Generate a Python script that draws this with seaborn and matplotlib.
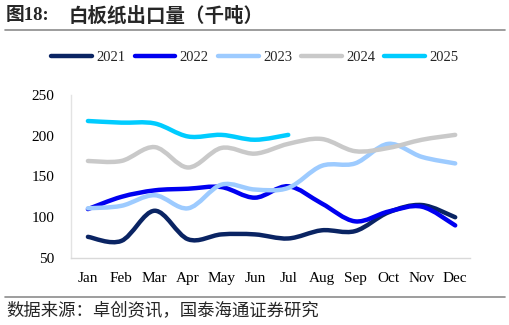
import matplotlib
matplotlib.use("Agg")
import matplotlib.pyplot as plt
import seaborn as sns
import pandas as pd
import numpy as np
from matplotlib.lines import Line2D
from matplotlib.path import Path
from matplotlib.patches import PathPatch

months = ["Jan", "Feb", "Mar", "Apr", "May", "Jun", "Jul", "Aug", "Sep", "Oct", "Nov", "Dec"]
y2021 = [76, 71, 108, 73, 79, 79, 74, 84, 83, 106, 115, 100]
y2022 = [110, 125, 133, 135, 137, 124, 138, 117, 95, 107, 113, 90]
y2023 = [111, 114, 127, 111, 140, 134, 136, 163, 166, 190, 174, 166]
y2024 = [169, 169, 186, 161, 185, 178, 190, 196, 181, 185, 195, 201]
y2025 = [218, 216, 215, 199, 201, 195, 201]
years = ["2021", "2022", "2023", "2024", "2025"]
colors = ["#0A2463", "#0000F0", "#9DCBFF", "#C9C9C9", "#00CCFF"]

series = [y2021, y2022, y2023, y2024, y2025]
rows = []
for yr, vals in zip(years, series):
    for i, v in enumerate(vals):
        rows.append({"month": i, "value": v, "year": yr})
df = pd.DataFrame(rows)

sns.set_style("white")
serif = ["Liberation Serif", "Noto Sans CJK SC"]
cjk = ["Noto Sans CJK SC", "DejaVu Sans"]

fig = plt.figure(figsize=(5.1, 3.25), dpi=100)
ax = fig.add_axes([0.139, 0.206, 0.783, 0.502])

sns.lineplot(data=df, x="month", y="value", hue="year", hue_order=years,
             palette=dict(zip(years, colors)), linewidth=3.2, sort=False,
             legend=False, ax=ax)


def smooth_path(xy):
    # Catmull-Rom to cubic Bezier (Excel-like smoothed line rendering)
    pts = np.asarray(xy, dtype=float)
    n = len(pts)
    verts = [pts[0]]
    codes = [Path.MOVETO]
    for i in range(n - 1):
        p0 = pts[i - 1] if i > 0 else pts[i]
        p1 = pts[i]
        p2 = pts[i + 1]
        p3 = pts[i + 2] if i + 2 < n else pts[i + 1]
        c1 = p1 + (p2 - p0) / 6.0
        c2 = p2 - (p3 - p1) / 6.0
        verts += [c1, c2, p2]
        codes += [Path.CURVE4] * 3
    return Path(verts, codes)


for ln in list(ax.lines):
    xy = ln.get_xydata()
    patch = PathPatch(smooth_path(xy), facecolor="none", edgecolor=ln.get_color(),
                      lw=ln.get_linewidth(), capstyle="round", joinstyle="round",
                      zorder=ln.get_zorder())
    ax.add_patch(patch)
    ln.set_visible(False)

ax.set_xlim(-0.51, 11.45)
ax.set_ylim(50, 250)
ax.set_xticks(range(12))
ax.set_xticklabels(months)
ax.set_yticks([50, 100, 150, 200, 250])
ax.set_xlabel("")
ax.set_ylabel("")
for lab in ax.get_xticklabels() + ax.get_yticklabels():
    lab.set_fontfamily(serif)
    lab.set_fontsize(11)
    lab.set_color("#000000")
ax.tick_params(axis="both", length=0)
ax.tick_params(axis="x", pad=10)
ax.tick_params(axis="y", pad=12)
for s in ["top", "right"]:
    ax.spines[s].set_visible(False)
ax.spines["left"].set_color("#E3E3E3")
ax.spines["bottom"].set_color("#D9D9D9")
ax.spines["left"].set_linewidth(1)
ax.spines["bottom"].set_linewidth(1)

handles = [Line2D([0], [0], color=c, lw=3.2, solid_capstyle="round") for c in colors]
fig.legend(handles, years, loc="center", bbox_to_anchor=(0.5, 1 - 57 / 325), ncol=5,
           frameon=False, handlelength=2.8, handletextpad=0.3, columnspacing=0.62,
           prop={"family": serif, "size": 10.5})

fig.text(0.012, 1 - 16 / 325, "图18:", fontsize=13.5, fontweight="bold", family=serif, va="center", ha="left")
fig.text(0.135, 1 - 16 / 325, "白板纸出口量（千吨）", fontsize=14, fontweight="bold", family=cjk, va="center", ha="left")
fig.add_artist(Line2D([0.01, 0.99], [1 - 30 / 325, 1 - 30 / 325], color="#8C8C8C", lw=1.2, transform=fig.transFigure))
fig.add_artist(Line2D([0.01, 0.99], [1 - 297 / 325, 1 - 297 / 325], color="#8C8C8C", lw=1.2, transform=fig.transFigure))
fig.text(0.012, 1 - 311 / 325, "数据来源：卓创资讯，国泰海通证券研究", fontsize=12.5, family=cjk, va="center", ha="left")

fig.savefig("out.png", dpi=100)
